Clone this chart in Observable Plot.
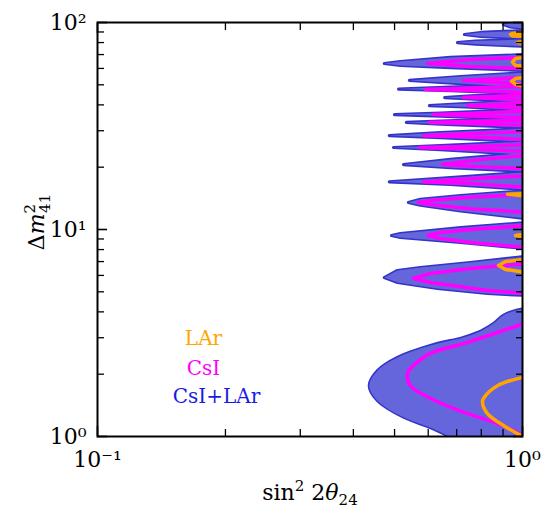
<!DOCTYPE html>
<html><head><meta charset="utf-8">
<script src="https://cdn.jsdelivr.net/npm/d3@7"></script>
<script src="https://cdn.jsdelivr.net/npm/@observablehq/plot@0.6"></script>
<style>body{margin:0;background:#fff} svg{font-family:"DejaVu Serif",serif}</style>
</head><body><div id="chart"></div>
<script>
// CsI+LAr filled region (sin^2 2theta24, dm41^2)
const blueLobes = [
 [[1.02,103],[0.902,97.8],[0.937,95.1],[1.02,93.5]],
 [[1.02,91.5],[0.797,89.5],[0.730,87.5],[0.797,85.6],[1.02,83.7]],
 [[1.02,82.8],[0.775,81.4],[0.703,80.0],[0.775,78.7],[1.02,76.6]],
 [[1.02,70.0],[0.677,67.8],[0.516,64.8],[0.473,63.4],[0.516,62.0],[0.677,60.6],[1.02,58.6]],
 [[1.02,57.3],[0.715,54.8],[0.542,52.5],[0.715,50.7],[1.02,48.5]],
 [[1.02,50.2],[0.677,48.8],[0.511,47.7],[0.677,46.9],[1.02,45.4]],
 [[1.02,45.4],[0.754,44.2],[0.656,43.4],[0.754,42.7],[1.02,41.5]],
 [[1.02,42.0],[0.734,40.6],[0.604,39.7],[0.734,39.1],[1.02,37.6]],
 [[1.02,38.0],[0.641,36.5],[0.500,35.9],[0.641,35.3],[1.02,34.0]],
 [[1.02,34.4],[0.641,33.4],[0.533,32.9],[0.641,32.3],[1.02,31.1]],
 [[1.02,30.7],[0.641,29.4],[0.486,28.4],[0.641,27.8],[1.02,26.6]],
 [[1.02,26.6],[0.641,25.4],[0.497,24.9],[0.641,24.3],[1.02,23.0]],
 [[1.02,23.5],[0.677,21.8],[0.525,20.6],[0.677,19.9],[1.02,19.1]],
 [[1.02,18.9],[0.677,17.8],[0.486,17.0],[0.677,16.5],[1.02,15.6]],
 [[1.02,15.4],[0.715,14.6],[0.575,14.0],[0.539,13.5],[0.575,13.1],[0.715,12.3],[1.02,11.3]],
 [[1.02,10.8],[0.715,10.2],[0.516,9.56],[0.492,9.35],[0.516,9.15],[0.715,8.66],[1.02,8.09]],
 [[1.02,7.41],[0.754,6.93],[0.575,6.55],[0.508,6.34],[0.473,5.86],[0.508,5.55],[0.631,5.19],[0.827,4.91],[1.02,4.80]]
];
const blueBottom = [[1.02,4.15],[0.963,4.06],[0.902,3.85],[0.855,3.51],[0.810,3.28],[0.784,3.18],[0.726,3.01],[0.607,2.75],[0.508,2.41],[0.456,2.08],[0.436,1.76],[0.456,1.49],[0.525,1.24],[0.607,1.105],[0.670,1.0],[0.685,0.96],[1.02,0.96]];

// CsI contour
const csiLobes = [
 [[1.02,67.8],[0.754,66.3],[0.598,63.4],[0.754,61.3],[1.02,59.9]],
 [[1.02,54.2],[0.841,53.3],[0.726,52.5],[0.841,51.6],[1.02,50.2]],
 [[1.02,49.1],[0.754,48.3],[0.591,47.5],[0.754,46.9],[1.02,45.9]],
 [[1.02,44.4],[0.841,43.9],[0.726,43.4],[0.841,43.0],[1.02,42.0]],
 [[1.02,40.6],[0.841,40.2],[0.742,39.7],[0.841,39.3],[1.02,38.4]],
 [[1.02,37.2],[0.754,36.3],[0.617,35.9],[0.754,35.3],[1.02,34.8]],
 [[1.02,33.6],[0.754,33.3],[0.604,32.9],[0.754,32.5],[1.02,31.8]],
 [[1.02,29.7],[0.754,29.1],[0.585,28.4],[0.754,28.0],[1.02,27.2]],
 [[1.02,25.7],[0.754,25.2],[0.572,24.9],[0.754,24.5],[1.02,23.8]],
 [[1.02,22.8],[0.797,21.8],[0.648,20.6],[0.797,20.1],[1.02,19.7]],
 [[1.02,18.2],[0.754,17.6],[0.585,17.0],[0.754,16.7],[1.02,16.0]],
 [[1.02,14.8],[0.754,14.3],[0.607,13.8],[0.569,13.5],[0.607,13.2],[0.754,12.6],[1.02,12.1]],
 [[1.02,10.45],[0.754,10.0],[0.641,9.67],[0.598,9.35],[0.641,9.05],[0.754,8.66],[1.02,8.19]],
 [[1.02,6.85],[0.754,6.48],[0.607,6.13],[0.554,5.80],[0.607,5.55],[0.827,5.07],[1.02,4.91]]
];
const csiBottom = [[1.02,3.55],[0.873,3.18],[0.726,2.81],[0.607,2.52],[0.554,2.20],[0.536,2.02],[0.545,1.76],[0.607,1.53],[0.726,1.31],[0.873,1.155],[1.0,1.011],[1.02,0.978]];

// LAr contour
const larLobes = [
 [[1.02,89.5],[0.947,88.5],[0.937,87.5],[0.947,86.1],[1.02,85.6]],
 [[1.02,81.4],[0.973,80.0],[1.02,78.7]],
 [[1.02,67.8],[0.963,67.0],[0.947,64.4],[0.963,62.0],[1.02,61.3]],
 [[1.02,54.5],[0.963,53.6],[0.942,51.9],[0.963,50.2],[1.02,49.1]],
 [[1.02,14.9],[0.922,14.8],[1.02,14.5]],
 [[1.02,9.51],[0.963,9.35],[1.02,9.20]],
 [[1.02,7.17],[0.912,7.01],[0.878,6.70],[0.912,6.41],[1.02,6.20]]
];
const larBottom = [[1.02,1.95],[0.873,1.76],[0.810,1.53],[0.805,1.46],[0.827,1.29],[0.902,1.13],[1.0,1.0],[1.02,0.978]];

const legendLabels = ["LAr", "CsI", "CsI+LAr"];
const legendColors = ["#ffa500", "#ff00ff", "#1a1ae6"];
const legendX = [0.1776, 0.1776, 0.1905];
const legendY = [2.975, 2.13, 1.56];

const xMajor = [0.1, 1];
const xMinor = [0.2,0.3,0.4,0.5,0.6,0.7,0.8,0.9];
const yMajor = [1, 10, 100];
const yMinor = [2,3,4,5,6,7,8,9,20,30,40,50,60,70,80,90];
const xTickText = ["10⁻¹", "10⁰"];
const yTickText = ["10⁰", "10¹", "10²"];

const rows = (lobes) => lobes.flatMap((lobe, i) => lobe.map(([x, y]) => ({id: i, x, y})));
const blueRows = rows(blueLobes), csiRows = rows(csiLobes), larRows = rows(larLobes);
const single = (pts) => pts.map(([x, y]) => ({x, y}));

const FILL = "#6565dc", EDGE = "#3434c8";
const legend = legendLabels.map((t, i) => ({t, c: legendColors[i], x: legendX[i], y: legendY[i]}));
const xFmt = (d) => xTickText[xMajor.indexOf(d)];
const yFmt = (d) => yTickText[yMajor.indexOf(d)];

const chart = Plot.plot({
  width: 541, height: 509,
  marginLeft: 97, marginRight: 19, marginTop: 22, marginBottom: 73,
  x: {type: "log", domain: [0.1, 1]},
  y: {type: "log", domain: [1, 100]},
  style: {fontFamily: "DejaVu Serif", background: "white"},
  marks: [
    Plot.line(blueRows, {x: "x", y: "y", z: "id", stroke: EDGE, strokeWidth: 3.2, strokeLinejoin: "round", clip: true}),
    Plot.line(single(blueBottom), {x: "x", y: "y", stroke: EDGE, strokeWidth: 3.2, curve: "catmull-rom", clip: true}),
    Plot.line(blueRows, {x: "x", y: "y", z: "id", fill: FILL, stroke: "none", clip: true}),
    Plot.line(single(blueBottom), {x: "x", y: "y", fill: FILL, stroke: "none", curve: "catmull-rom", clip: true}),
    Plot.line(csiRows, {x: "x", y: "y", z: "id", stroke: "#ff00ff", strokeWidth: 3.5, strokeLinejoin: "round", clip: true}),
    Plot.line(single(csiBottom), {x: "x", y: "y", stroke: "#ff00ff", strokeWidth: 3.5, curve: "catmull-rom", clip: true}),
    Plot.line(larRows, {x: "x", y: "y", z: "id", stroke: "#ffa500", strokeWidth: 3.5, strokeLinejoin: "round", clip: true}),
    Plot.line(single(larBottom), {x: "x", y: "y", stroke: "#ffa500", strokeWidth: 3.5, curve: "catmull-rom", clip: true}),
    Plot.text(legend, {x: "x", y: "y", text: "t", fill: "c", fontSize: 20, textAnchor: "middle"}),
    Plot.frame({stroke: "black", strokeWidth: 2}),
    // inward ticks on all four sides
    Plot.axisX(xMajor, {anchor: "bottom", tickSize: -10, strokeWidth: 1.6, tickFormat: () => "", label: null}),
    Plot.axisX(xMinor, {anchor: "bottom", tickSize: -7, strokeWidth: 1.3, tickFormat: () => "", label: null}),
    Plot.axisX(xMajor, {anchor: "top", tickSize: -10, strokeWidth: 1.6, tickFormat: () => "", label: null}),
    Plot.axisX(xMinor, {anchor: "top", tickSize: -7, strokeWidth: 1.3, tickFormat: () => "", label: null}),
    Plot.axisY(yMajor, {anchor: "left", tickSize: -10, strokeWidth: 1.6, tickFormat: () => "", label: null}),
    Plot.axisY(yMinor, {anchor: "left", tickSize: -7, strokeWidth: 1.3, tickFormat: () => "", label: null}),
    Plot.axisY(yMajor, {anchor: "right", tickSize: -10, strokeWidth: 1.6, tickFormat: () => "", label: null}),
    Plot.axisY(yMinor, {anchor: "right", tickSize: -7, strokeWidth: 1.3, tickFormat: () => "", label: null}),
    // tick labels
    Plot.axisX(xMajor, {anchor: "bottom", tickSize: 0, tickPadding: 15, fontSize: 22, tickFormat: xFmt, label: null}),
    Plot.axisY(yMajor, {anchor: "left", tickSize: 0, tickPadding: 11, fontSize: 22, tickFormat: yFmt, label: null})
  ]
});

const svg = d3.select(chart);
// x label: sin^2 2θ24
const xl = svg.append("text").attr("x", 310).attr("y", 500).attr("text-anchor", "middle")
  .attr("font-size", 22).attr("fill", "black");
xl.append("tspan").text("sin");
xl.append("tspan").attr("font-size", 15).attr("dy", -9).text("2");
xl.append("tspan").attr("dy", 9).text(" 2");
xl.append("tspan").attr("font-style", "italic").text("θ");
xl.append("tspan").attr("font-size", 15).attr("dy", 5).text("24");
// y label: Δm^2_41
const yl = svg.append("text").attr("transform", "translate(44,222) rotate(-90)").attr("text-anchor", "middle")
  .attr("font-size", 22).attr("fill", "black");
yl.append("tspan").text("Δ");
yl.append("tspan").attr("font-style", "italic").text("m");
yl.append("tspan").attr("font-size", 15).attr("dy", -9).text("2");
yl.append("tspan").attr("font-size", 15).attr("dx", -9).attr("dy", 15).text("41");

document.getElementById("chart").appendChild(chart);
</script>
</body></html>
